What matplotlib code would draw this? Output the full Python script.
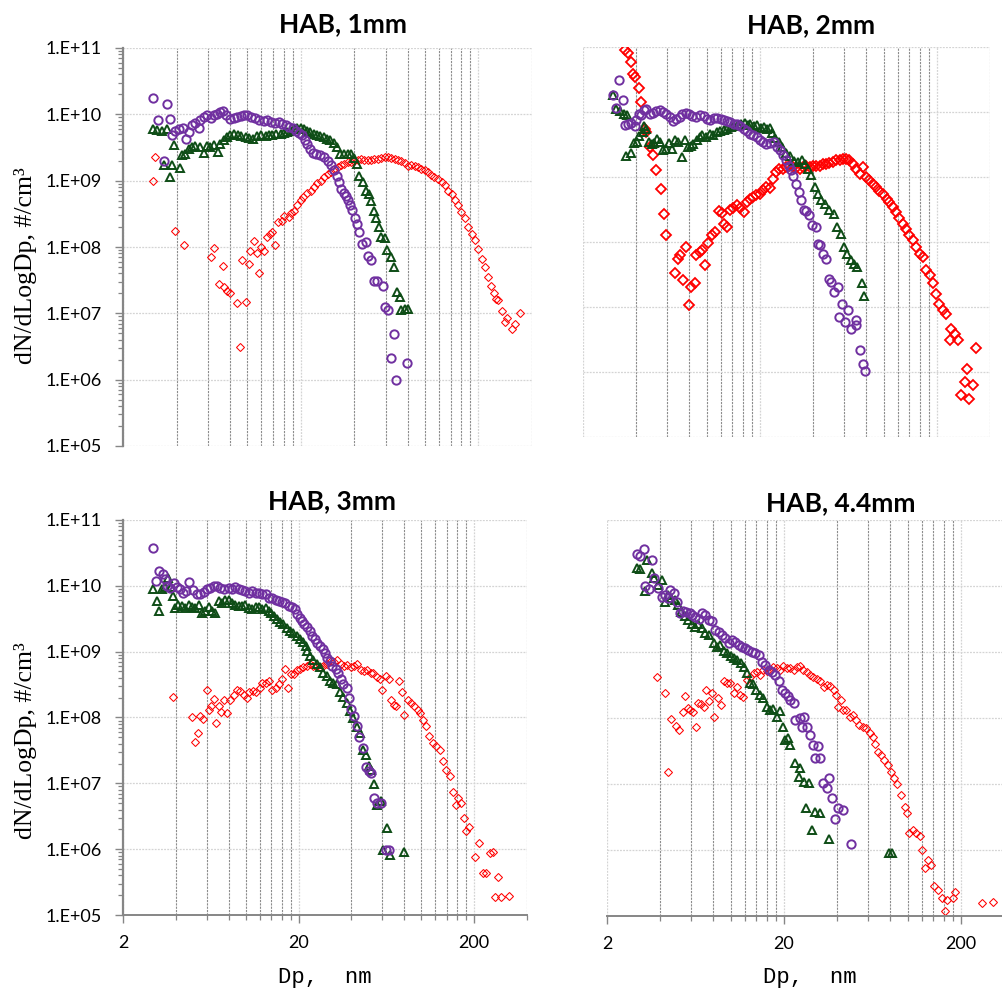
import matplotlib
matplotlib.use("Agg")
import matplotlib.pyplot as plt
from matplotlib.ticker import FixedLocator, FixedFormatter, LogLocator, NullFormatter

plt.rcParams["font.family"] = ["Lato", "DejaVu Sans"]

PURPLE = "#7030A0"
GREEN = "#0E4D16"
RED = "#FF0000"

# (Dp nm, dN/dLogDp) pairs

# HAB 1mm
tl_circles = [(2.94, 1.76e10), (3.16, 8.1e9), (3.38, 2.0e9), (3.53, 1.42e10), (3.66, 8.6e9), (3.77, 4.8e9),
              (3.93, 5.7e9), (4.11, 6.1e9), (4.35, 6.3e9), (4.52, 4.3e9), (4.70, 5.4e9), (4.88, 6.8e9),
              (5.05, 7.4e9), (5.33, 6.2e9), (5.45, 8.1e9), (5.69, 9.1e9), (5.94, 9.7e9), (6.25, 8.9e9),
              (6.48, 9.9e9), (6.77, 1.02e10), (7.07, 1.08e10), (7.32, 1.11e10), (7.64, 9.7e9), (7.98, 8.6e9),
              (8.41, 8.9e9), (8.78, 9.1e9), (9.17, 9.4e9), (9.57, 9.7e9), (10.0, 9.9e9), (10.5, 9.1e9),
              (11.1, 8.9e9), (11.7, 8.3e9), (12.4, 7.9e9), (13.0, 8.1e9), (13.6, 7.7e9), (14.4, 7.4e9),
              (15.0, 7.7e9), (15.7, 7.1e9), (16.5, 6.8e9), (17.2, 6.4e9), (18.0, 6.3e9), (18.7, 5.7e9),
              (19.6, 5.2e9), (20.4, 4.8e9), (21.1, 4.15e9), (21.8, 3.6e9), (22.6, 3.0e9), (23.3, 2.6e9),
              (24.3, 2.5e9), (25.7, 2.4e9), (27.1, 2.3e9), (28.3, 2.0e9), (29.5, 1.7e9), (30.8, 1.43e9),
              (31.9, 1.16e9), (32.9, 9.5e8), (33.9, 7.6e8), (34.8, 6.5e8), (35.8, 5.8e8), (36.8, 5.1e8),
              (37.8, 4.25e8), (38.9, 3.6e8), (40.2, 2.7e8), (41.4, 2.2e8), (42.7, 1.68e8), (44.3, 1.12e8),
              (46.4, 1.19e8), (47.6, 7.2e7), (49.7, 6.3e7), (51.4, 3.1e7), (53.7, 3.1e7), (57.9, 2.6e7),
              (59.2, 1.24e7), (61.8, 1.14e7), (66.8, 4.9e6), (64.0, 2.1e6), (68.9, 9.8e5), (79.5, 1.8e6)]
tl_triangles = [(2.94, 6.1e9), (3.10, 5.9e9), (3.31, 5.6e9), (3.53, 6.1e9), (3.38, 1.7e9), (3.66, 1.14e9),
                (3.77, 1.7e9), (3.88, 3.5e9), (4.20, 1.55e9), (4.29, 2.4e9), (4.48, 2.5e9), (4.68, 3.0e9),
                (4.88, 3.2e9), (5.10, 3.3e9), (5.40, 3.2e9), (5.69, 2.6e9), (5.94, 3.3e9), (6.20, 3.2e9),
                (6.48, 3.5e9), (6.86, 2.7e9), (7.07, 3.6e9), (7.38, 4.06e9), (7.71, 4.55e9), (8.05, 4.8e9),
                (8.41, 5.1e9), (8.86, 4.8e9), (9.25, 4.65e9), (9.79, 4.55e9), (10.2, 4.45e9), (10.8, 4.3e9),
                (11.4, 4.65e9), (12.0, 4.8e9), (12.7, 4.65e9), (13.2, 4.8e9), (13.8, 4.85e9), (14.6, 5.1e9),
                (15.4, 5.1e9), (16.1, 5.2e9), (16.8, 5.4e9), (17.6, 5.7e9), (18.3, 6.1e9), (19.1, 6.3e9),
                (20.0, 6.2e9), (20.9, 6.1e9), (21.6, 5.7e9), (22.6, 5.4e9), (23.7, 5.1e9), (24.7, 4.9e9),
                (25.8, 4.65e9), (26.9, 4.55e9), (28.1, 4.3e9), (29.3, 4.06e9), (30.6, 3.7e9), (31.9, 3.2e9),
                (33.2, 2.55e9), (35.1, 2.5e9), (36.7, 2.55e9), (38.3, 2.5e9), (40.0, 2.2e9), (41.4, 1.8e9),
                (42.7, 1.17e9), (44.6, 9.5e8), (46.6, 7.1e8), (48.2, 6.4e8), (49.7, 4.9e8), (51.4, 3.5e8),
                (53.0, 2.7e8), (54.8, 2.0e8), (56.6, 1.42e8), (59.2, 1.38e8), (61.3, 8.9e7), (64.0, 7.1e7),
                (66.8, 5.0e7), (69.8, 2.1e7), (71.9, 1.76e7), (73.5, 1.11e7), (76.8, 1.17e7), (80.1, 1.17e7)]
tl_diamonds = [(2.94, 1.0e9), (3.03, 2.3e9), (3.93, 1.74e8), (4.39, 1.08e8), (6.25, 7.1e7), (6.54, 9.8e7),
               (6.98, 2.8e7), (7.32, 5.1e7), (7.44, 2.5e7), (7.71, 2.2e7), (8.05, 2.0e7), (8.71, 1.43e7),
               (9.05, 3.1e6), (9.33, 6.3e7), (9.79, 1.48e7), (10.2, 5.5e7), (10.4, 8.7e7), (10.9, 1.23e8),
               (11.3, 8.2e7), (11.7, 4.06e7), (12.0, 1.0e8), (12.5, 8.7e7), (13.0, 1.42e8), (13.4, 1.59e8),
               (13.8, 1.68e8), (14.4, 1.08e8), (14.8, 2.4e8), (15.6, 2.5e8), (16.1, 2.9e8), (17.2, 2.8e8),
               (17.6, 3.2e8), (18.3, 3.5e8), (19.1, 4.25e8), (20.0, 5.1e8), (20.7, 5.7e8), (21.7, 6.5e8),
               (22.8, 7.1e8), (23.8, 8.0e8), (24.8, 9.2e8), (25.9, 1.0e9), (27.1, 1.14e9), (28.3, 1.28e9),
               (29.5, 1.35e9), (30.8, 1.52e9), (32.2, 1.61e9), (33.6, 1.7e9), (35.1, 1.8e9), (36.7, 1.9e9),
               (38.3, 1.9e9), (40.0, 2.0e9), (41.8, 2.06e9), (43.6, 2.15e9), (45.6, 2.06e9), (47.6, 2.06e9),
               (49.7, 2.06e9), (51.9, 2.15e9), (54.2, 2.15e9), (56.6, 2.2e9), (59.2, 2.27e9), (61.8, 2.27e9),
               (64.5, 2.2e9), (67.4, 2.15e9), (70.4, 2.06e9), (73.5, 1.98e9), (76.8, 1.85e9), (80.1, 1.64e9),
               (83.7, 1.7e9), (87.4, 1.64e9), (91.3, 1.61e9), (95.3, 1.52e9), (99.6, 1.43e9), (104, 1.35e9),
               (108, 1.2e9), (113, 1.14e9), (118, 1.07e9), (124, 9.5e8), (129, 8.5e8), (135, 7.1e8),
               (141, 6.2e8), (147, 5.2e8), (154, 4.25e8), (160, 3.4e8), (167, 2.7e8), (175, 2.0e8),
               (183, 1.59e8), (191, 1.29e8), (199, 9.4e7), (208, 6.7e7), (217, 5.0e7), (225, 3.5e7),
               (235, 2.6e7), (245, 2.0e7), (252, 1.63e7), (258, 1.57e7), (270, 1.08e7), (282, 7.4e6),
               (290, 8.6e6), (307, 5.9e6), (320, 7.0e6), (341, 1.01e7)]

# HAB 2mm
tr_circles = [(2.96, 1.8e10), (3.21, 3.1e10), (3.37, 1.55e10), (3.09, 1.17e10), (3.44, 6.2e9), (3.60, 6.6e9),
              (3.76, 6.8e9), (3.92, 6.0e9), (4.01, 7.4e9), (4.15, 9.4e9), (4.27, 8.9e9), (4.40, 1.06e10),
              (4.56, 1.12e10), (4.76, 9.2e9), (4.97, 9.7e9), (5.19, 1.04e10), (5.42, 1.06e10), (5.67, 1.0e10),
              (5.91, 9.4e9), (6.17, 8.4e9), (6.45, 7.3e9), (6.74, 7.9e9), (7.04, 8.4e9), (7.29, 9.4e9),
              (7.61, 9.7e9), (7.95, 9.2e9), (8.30, 8.6e9), (8.74, 8.4e9), (9.13, 8.9e9), (9.61, 8.6e9),
              (10.0, 7.9e9), (10.5, 7.4e9), (11.0, 8.1e9), (11.4, 8.1e9), (12.0, 7.9e9), (12.5, 7.6e9),
              (13.0, 7.3e9), (13.6, 7.0e9), (14.2, 6.6e9), (14.8, 6.5e9), (15.5, 6.0e9), (16.2, 5.5e9),
              (16.9, 5.1e9), (17.6, 4.6e9), (18.4, 4.4e9), (19.2, 4.1e9), (20.1, 3.75e9), (20.8, 3.45e9),
              (21.7, 3.2e9), (22.9, 3.3e9), (23.9, 3.4e9), (25.0, 2.9e9), (26.1, 2.6e9), (27.2, 2.2e9),
              (28.2, 1.85e9), (29.2, 1.5e9), (30.1, 1.27e9), (30.7, 1.02e9), (32.1, 7.9e8), (33.3, 5.9e8),
              (34.3, 4.4e8), (35.3, 3.1e8), (36.5, 3.05e8), (37.9, 2.6e8), (39.5, 1.8e8), (41.3, 1.7e8),
              (42.5, 9.4e7), (43.8, 8.9e7), (45.4, 6.6e7), (47.4, 5.5e7), (49.1, 2.7e7), (50.6, 2.4e7),
              (52.8, 1.7e7), (55.1, 2.0e7), (58.5, 1.12e7), (62.9, 8.9e6), (56.1, 7.0e6), (60.3, 5.9e6),
              (65.7, 4.6e6), (69.7, 5.2e6), (70.2, 6.4e6), (73.2, 2.2e6), (76.4, 1.31e6), (78.8, 1.04e6)]
tr_triangles = [(2.96, 1.8e10), (3.09, 1.12e10), (3.25, 1.04e10), (3.40, 9.4e9), (3.55, 8.9e9), (3.49, 2.1e9),
                (3.72, 2.3e9), (3.88, 3.3e9), (4.03, 3.45e9), (4.17, 4.2e9), (4.35, 4.9e9), (4.44, 6.0e9),
                (4.57, 5.5e9), (4.72, 3.45e9), (4.88, 3.2e9), (5.01, 3.3e9), (5.23, 3.9e9), (5.46, 3.45e9),
                (5.66, 2.6e9), (5.88, 2.7e9), (6.14, 3.3e9), (6.40, 2.7e9), (6.63, 3.7e9), (6.93, 3.45e9),
                (7.22, 2.0e9), (7.54, 3.7e9), (7.88, 2.9e9), (8.15, 3.0e9), (8.40, 3.2e9), (8.78, 3.7e9),
                (9.17, 4.1e9), (9.45, 4.4e9), (9.91, 4.1e9), (10.4, 4.6e9), (10.9, 4.5e9), (11.4, 4.9e9),
                (11.9, 5.1e9), (12.5, 5.35e9), (13.1, 5.55e9), (13.7, 5.9e9), (14.3, 6.0e9), (15.0, 6.2e9),
                (15.7, 6.5e9), (16.4, 6.8e9), (17.2, 6.2e9), (17.7, 6.5e9), (18.5, 6.0e9), (19.3, 6.2e9),
                (20.2, 5.7e9), (21.1, 5.9e9), (22.0, 5.5e9), (22.7, 5.7e9), (23.4, 4.75e9), (24.5, 4.0e9),
                (25.6, 3.45e9), (26.8, 2.9e9), (28.1, 2.34e9), (29.6, 2.1e9), (31.0, 1.76e9), (33.0, 1.7e9),
                (34.4, 1.85e9), (35.9, 1.57e9), (37.4, 1.34e9), (39.1, 1.06e9), (40.9, 7.0e8), (42.7, 5.5e8),
                (44.6, 4.5e8), (46.5, 3.8e8), (49.4, 3.1e8), (52.6, 2.7e8), (54.9, 1.7e8), (57.4, 1.34e8),
                (59.9, 8.4e7), (62.5, 6.5e7), (65.3, 5.35e7), (68.2, 4.6e7), (71.2, 4.1e7), (75.5, 2.3e7),
                (77.9, 1.46e7)]
tr_diamonds = [(3.44, 8.9e10), (3.60, 8.1e10), (3.73, 5.9e10), (3.84, 3.8e10), (3.92, 3.45e10), (4.15, 2.34e10),
               (4.27, 1.43e10), (4.50, 5.5e9), (4.56, 4.9e9), (4.76, 2.9e9), (4.97, 2.15e9), (5.19, 1.3e9),
               (5.55, 6.6e8), (5.72, 2.7e8), (5.91, 1.27e8), (6.59, 3.3e7), (6.89, 5.5e7), (7.04, 6.2e7),
               (7.35, 2.6e7), (7.67, 8.4e7), (7.95, 1.06e7), (8.19, 2.0e7), (8.56, 2.3e7), (8.74, 6.2e7),
               (9.13, 7.0e7), (9.45, 7.4e7), (9.83, 4.5e7), (10.2, 9.7e7), (10.7, 1.27e8), (11.1, 1.43e8),
               (11.7, 3.0e8), (12.2, 2.8e8), (12.5, 1.9e8), (13.0, 1.7e8), (13.5, 3.1e8), (14.1, 3.3e8),
               (14.8, 3.7e8), (15.5, 3.3e8), (16.2, 2.9e8), (16.9, 4.1e8), (17.5, 4.6e8), (18.3, 4.9e8),
               (19.1, 5.2e8), (20.0, 5.5e8), (20.8, 6.4e8), (21.7, 7.0e8), (22.7, 6.8e8), (23.7, 9.4e8),
               (24.6, 1.2e9), (25.7, 1.34e9), (27.0, 1.34e9), (28.2, 1.43e9), (29.4, 1.46e9), (30.7, 1.43e9),
               (32.1, 1.4e9), (33.5, 1.34e9), (35.0, 1.43e9), (36.5, 1.5e9), (38.2, 1.43e9), (39.9, 1.46e9),
               (41.6, 1.5e9), (43.5, 1.5e9), (45.4, 1.57e9), (47.4, 1.6e9), (49.5, 1.64e9), (51.7, 1.7e9),
               (54.0, 1.8e9), (56.4, 1.85e9), (58.9, 1.9e9), (61.5, 1.9e9), (64.2, 1.8e9), (67.1, 1.6e9),
               (70.1, 1.34e9), (73.2, 1.12e9), (76.4, 1.43e9), (79.8, 1.0e9), (83.3, 8.9e8), (87.0, 7.9e8),
               (90.9, 7.0e8), (94.9, 6.1e8), (99.2, 5.5e8), (104, 4.6e8), (108, 4.1e8), (113, 3.4e8),
               (118, 2.9e8), (123, 2.3e8), (129, 1.9e8), (134, 1.6e8), (140, 1.27e8), (147, 1.06e8),
               (153, 8.4e7), (160, 6.5e7), (167, 5.9e7), (174, 3.75e7), (182, 3.1e7), (190, 2.3e7),
               (198, 1.6e7), (207, 1.1e7), (216, 8.9e6), (226, 7.9e6), (242, 4.6e6), (252, 3.9e6),
               (239, 3.1e6), (264, 3.1e6), (297, 1.12e6), (334, 2.3e6), (288, 7.0e5), (320, 6.2e5),
               (276, 4.4e5), (305, 3.9e5)]

# HAB 3mm
bl_circles = [(2.98, 3.8e10), (3.08, 1.18e10), (3.22, 1.68e10), (3.37, 1.49e10), (3.47, 1.25e10), (3.56, 9.9e9),
              (3.71, 9.4e9), (3.88, 1.09e10), (4.05, 9.7e9), (4.23, 8.8e9), (4.42, 7.9e9), (4.58, 8.3e9),
              (4.78, 1.14e10), (5.00, 8.6e9), (5.27, 7.4e9), (5.50, 7.4e9), (5.76, 8.0e9), (6.01, 8.8e9),
              (6.28, 9.4e9), (6.56, 1.01e10), (6.85, 9.9e9), (7.17, 9.4e9), (7.56, 8.8e9), (8.0, 9.4e9),
              (8.4, 8.8e9), (8.74, 9.7e9), (9.13, 8.8e9), (9.54, 8.6e9), (9.96, 8.3e9), (10.4, 7.9e9),
              (10.9, 8.3e9), (11.4, 7.7e9), (11.9, 7.7e9), (12.4, 7.4e9), (13.0, 7.4e9), (13.6, 6.6e9),
              (14.1, 6.6e9), (14.8, 6.2e9), (15.4, 5.9e9), (16.1, 5.7e9), (16.8, 5.4e9), (17.6, 5.0e9),
              (18.4, 4.8e9), (19.0, 4.4e9), (19.7, 3.7e9), (20.3, 3.3e9), (21.0, 2.9e9), (21.6, 2.6e9),
              (22.4, 2.4e9), (23.2, 2.05e9), (23.9, 1.76e9), (24.7, 1.57e9), (25.6, 1.36e9), (26.5, 1.21e9),
              (27.4, 1.08e9), (28.3, 9.6e8), (29.2, 8.1e8), (30.3, 7.2e8), (31.2, 6.0e8), (32.6, 5.5e8),
              (33.7, 4.75e8), (34.8, 3.8e8), (36.0, 3.2e8), (37.6, 2.8e8), (38.8, 2.0e8), (40.0, 1.35e8),
              (41.4, 1.04e8), (42.9, 7.5e7), (44.2, 5.1e7), (46.3, 3.4e7), (48.5, 1.77e7), (50.2, 1.52e7),
              (52.0, 1.45e7), (53.8, 6.0e6), (56.2, 5.1e6), (58.9, 5.1e6), (62.9, 9.8e5), (65.6, 9.8e5)]
bl_triangles = [(2.98, 8.8e9), (3.12, 5.9e9), (3.22, 4.1e9), (3.33, 8.8e9), (3.47, 9.7e9), (3.63, 1.33e10),
                (3.75, 9.7e9), (3.85, 7.1e9), (3.96, 4.6e9), (4.14, 5.2e9), (4.33, 5.0e9), (4.52, 4.6e9),
                (4.73, 5.2e9), (4.93, 4.8e9), (5.16, 4.6e9), (5.39, 5.2e9), (5.63, 3.9e9), (5.88, 4.1e9),
                (6.15, 4.8e9), (6.42, 4.1e9), (6.71, 3.9e9), (7.01, 5.9e9), (7.33, 5.4e9), (7.65, 6.2e9),
                (8.0, 6.2e9), (8.35, 5.5e9), (8.73, 5.2e9), (9.12, 5.0e9), (9.52, 4.9e9), (9.95, 5.2e9),
                (10.4, 4.6e9), (10.9, 4.5e9), (11.4, 4.8e9), (11.9, 4.8e9), (12.4, 4.5e9), (13.0, 4.6e9),
                (13.6, 4.1e9), (14.0, 3.8e9), (14.5, 3.5e9), (15.0, 3.1e9), (15.7, 2.8e9), (16.4, 2.6e9),
                (17.1, 2.3e9), (17.9, 2.05e9), (18.7, 1.89e9), (19.6, 1.72e9), (20.4, 1.57e9), (21.3, 1.39e9),
                (22.0, 1.21e9), (22.4, 1.02e9), (23.3, 8.5e8), (24.3, 7.6e8), (25.4, 6.6e8), (26.5, 5.9e8),
                (27.7, 4.75e8), (29.0, 4.2e8), (30.3, 3.6e8), (31.6, 3.35e8), (33.0, 3.2e8), (34.5, 2.4e8),
                (36.0, 2.05e8), (37.6, 1.66e8), (39.3, 1.24e8), (41.1, 9.8e7), (42.9, 7.2e7), (44.8, 5.8e7),
                (46.8, 3.2e7), (48.5, 2.7e7), (50.2, 1.81e7), (52.0, 1.61e7), (53.8, 9.9e6), (56.2, 4.7e6),
                (58.9, 5.3e6), (60.8, 9.8e5), (63.7, 2.1e6), (66.6, 8.2e5), (79.7, 8.9e5)]
bl_diamonds = [(3.85, 2.05e8), (4.93, 1.02e8), (5.16, 4.3e7), (5.32, 5.8e7), (5.50, 1.07e8), (5.70, 9.5e7),
               (5.98, 2.6e8), (6.15, 1.32e8), (6.34, 1.48e8), (6.62, 1.91e8), (6.80, 8.3e7), (7.01, 1.51e8),
               (7.23, 1.2e8), (7.49, 1.83e8), (7.82, 1.17e8), (8.18, 1.83e8), (8.54, 2.2e8), (8.92, 2.65e8),
               (9.33, 2.5e8), (9.75, 2.2e8), (10.2, 2.0e8), (10.5, 2.4e8), (11.0, 2.5e8), (11.5, 2.4e8),
               (12.0, 2.8e8), (12.4, 3.35e8), (13.0, 3.3e8), (13.6, 3.6e8), (14.1, 2.6e8), (14.8, 2.8e8),
               (15.4, 3.2e8), (16.1, 3.85e8), (16.8, 5.5e8), (17.5, 2.8e8), (18.1, 4.6e8), (18.8, 4.5e8),
               (19.5, 5.3e8), (20.3, 5.5e8), (21.3, 5.9e8), (22.2, 6.0e8), (23.2, 6.4e8), (24.2, 6.0e8),
               (25.3, 6.0e8), (26.4, 5.9e8), (27.6, 6.0e8), (28.9, 6.4e8), (30.6, 7.2e8), (31.8, 6.9e8),
               (33.3, 7.6e8), (34.8, 6.4e8), (36.3, 6.0e8), (37.9, 6.2e8), (39.6, 5.9e8), (41.4, 6.0e8),
               (43.3, 6.4e8), (45.2, 5.3e8), (47.3, 5.0e8), (49.3, 5.2e8), (51.5, 4.75e8), (53.3, 4.8e8),
               (55.8, 4.1e8), (58.3, 3.8e8), (60.0, 2.65e8), (62.9, 4.2e8), (65.6, 3.8e8), (67.1, 1.87e8),
               (69.5, 1.57e8), (71.8, 1.48e8), (75.0, 3.6e8), (77.3, 2.4e8), (80.0, 1.1e8), (83.6, 1.87e8),
               (87.3, 1.66e8), (91.2, 1.48e8), (95.3, 1.32e8), (98.8, 1.17e8), (102, 9.3e7), (106, 7.3e7),
               (111, 5.2e7), (116, 4.1e7), (121, 3.65e7), (127, 3.2e7), (133, 2.15e7), (139, 1.61e7),
               (145, 1.28e7), (151, 7.5e6), (158, 4.7e6), (162, 6.0e6), (169, 5.0e6), (176, 3.0e6),
               (180, 1.86e6), (188, 2.2e6), (201, 7.7e5), (214, 1.23e6), (224, 4.3e5), (234, 4.3e5),
               (245, 8.7e5), (256, 9.2e5), (274, 3.8e5), (262, 1.9e5), (285, 1.9e5), (314, 1.95e5)]

# HAB 4.4mm
br_circles = [(2.96, 3.05e10), (3.09, 2.8e10), (3.23, 3.6e10), (3.60, 2.5e10), (3.30, 1.0e10), (3.44, 8.9e9),
              (3.71, 1.31e10), (3.87, 9.2e9), (4.10, 6.9e9), (4.27, 7.3e9), (4.40, 6.5e9), (4.56, 8.7e9),
              (4.76, 7.7e9), (4.97, 5.8e9), (5.19, 3.85e9), (5.38, 4.2e9), (5.62, 4.1e9), (5.86, 3.9e9),
              (6.04, 3.6e9), (6.31, 3.4e9), (6.59, 3.2e9), (6.89, 3.85e9), (7.20, 3.6e9), (7.51, 3.1e9),
              (7.84, 2.9e9), (8.19, 2.15e9), (8.56, 2.0e9), (8.94, 1.8e9), (9.33, 1.61e9), (9.75, 1.35e9),
              (10.2, 1.52e9), (10.6, 1.44e9), (11.1, 1.28e9), (11.6, 1.2e9), (12.1, 1.14e9), (12.6, 1.07e9),
              (13.2, 1.01e9), (13.8, 9.5e8), (14.4, 9.0e8), (15.0, 7.1e8), (15.7, 6.4e8), (16.4, 5.3e8),
              (17.1, 4.9e8), (17.9, 4.5e8), (18.7, 3.6e8), (19.5, 2.65e8), (20.3, 2.4e8), (21.0, 2.15e8),
              (21.7, 1.87e8), (22.7, 1.67e8), (23.2, 9.3e7), (24.7, 9.9e7), (26.0, 1.02e8), (25.2, 7.4e7),
              (27.2, 7.4e7), (28.2, 5.5e7), (29.2, 3.9e7), (31.2, 3.7e7), (30.1, 2.5e7), (32.0, 2.5e7),
              (33.3, 1.05e7), (36.2, 1.22e7), (34.9, 8.6e6), (37.3, 6.1e6), (39.1, 2.9e6), (40.2, 4.3e6),
              (43.1, 4.0e6), (47.8, 1.22e6)]
br_triangles = [(2.96, 1.85e10), (3.09, 1.79e10), (3.26, 8.5e9), (3.37, 2.5e10), (3.60, 1.56e10), (3.71, 1.31e10),
                (3.87, 1.03e10), (4.10, 1.23e10), (4.27, 5.8e9), (4.43, 7.3e9), (4.62, 6.5e9), (4.82, 6.1e9),
                (5.03, 5.2e9), (5.26, 4.1e9), (5.51, 3.5e9), (5.76, 3.05e9), (6.02, 2.65e9), (6.29, 2.4e9),
                (6.57, 2.7e9), (6.87, 2.3e9), (7.18, 1.92e9), (7.51, 1.81e9), (8.02, 1.35e9), (8.38, 1.2e9),
                (8.76, 1.27e9), (9.15, 1.05e9), (9.56, 9.5e8), (9.99, 8.7e8), (10.4, 8.0e8), (10.9, 7.6e8),
                (11.4, 6.7e8), (11.9, 6.0e8), (12.4, 4.75e8), (12.8, 3.4e8), (13.4, 3.3e8), (14.0, 2.65e8),
                (14.6, 2.2e8), (15.3, 2.0e8), (16.0, 1.49e8), (16.7, 1.32e8), (17.4, 1.35e8), (18.2, 1.05e8),
                (19.0, 1.29e8), (19.7, 7.4e7), (20.3, 4.6e7), (21.2, 4.9e7), (21.8, 3.9e7), (23.1, 2.1e7),
                (24.7, 1.73e7), (24.2, 1.29e7), (25.9, 1.08e7), (27.8, 1.05e7), (26.8, 4.3e6), (29.9, 3.8e6),
                (32.1, 3.6e6), (28.9, 2.0e6), (36.2, 1.45e6), (79.0, 9.1e5), (81.9, 8.9e5)]
br_diamonds = [(3.83, 4.2e8), (4.27, 2.4e8), (4.43, 1.54e7), (4.58, 9.5e7), (4.91, 7.6e7), (5.12, 6.6e7),
               (5.35, 1.25e8), (5.51, 2.15e8), (5.76, 1.4e8), (5.93, 1.32e8), (6.10, 1.25e8), (6.33, 7.2e7),
               (6.57, 1.71e8), (6.83, 1.63e8), (7.04, 1.49e8), (7.25, 2.65e8), (7.51, 1.83e8), (7.84, 2.4e8),
               (8.09, 1.02e8), (8.46, 2.0e8), (8.85, 1.57e8), (9.13, 3.6e8), (9.54, 3.35e8), (9.96, 3.45e8),
               (10.4, 2.4e8), (10.8, 3.0e8), (11.3, 2.2e8), (11.8, 2.1e8), (12.4, 3.8e8), (12.9, 4.2e8),
               (13.5, 4.75e8), (14.1, 5.0e8), (14.7, 4.5e8), (15.3, 5.3e8), (16.0, 5.2e8), (16.7, 5.4e8),
               (17.4, 5.9e8), (18.2, 5.7e8), (19.0, 5.4e8), (19.9, 6.1e8), (20.8, 5.7e8), (21.7, 5.7e8),
               (22.7, 5.4e8), (23.7, 5.9e8), (24.6, 6.1e8), (25.7, 5.4e8), (26.9, 4.9e8), (28.1, 4.5e8),
               (29.3, 4.2e8), (30.7, 3.85e8), (32.0, 3.6e8), (33.5, 3.0e8), (35.0, 3.15e8), (36.5, 3.05e8),
               (38.2, 2.65e8), (39.4, 2.2e8), (40.6, 1.49e8), (42.1, 1.87e8), (43.1, 1.32e8), (45.0, 1.32e8),
               (47.0, 1.05e8), (49.1, 1.1e8), (51.2, 9.3e7), (53.5, 7.8e7), (55.9, 7.4e7), (58.4, 7.0e7),
               (61.0, 5.9e7), (63.7, 5.2e7), (65.6, 4.1e7), (67.9, 3.1e7), (70.9, 2.75e7), (74.0, 2.3e7),
               (77.3, 1.94e7), (80.8, 1.54e7), (83.7, 1.22e7), (87.4, 1.0e7), (92.2, 6.8e6), (96.3, 4.5e6),
               (99.6, 3.6e6), (102, 1.79e6), (107, 2.0e6), (112, 1.79e6), (117, 1.63e6), (120, 1.0e6),
               (125, 5.3e5), (131, 7.1e5), (135, 5.9e5), (141, 2.8e5), (149, 2.5e5), (157, 1.85e5),
               (162, 1.2e5), (167, 1.75e5), (180, 1.85e5), (186, 2.35e5), (264, 1.6e5), (303, 1.65e5)]

TITLES = ["HAB, 1mm", "HAB, 2mm", "HAB, 3mm", "HAB, 4.4mm"]
X_MAJOR = [2, 20, 200]
X_MINOR = [4, 6, 8, 10, 12, 14, 16, 18, 40, 60, 80, 100, 120, 140, 160, 180, 400]
Y_TICKS = [1e5, 1e6, 1e7, 1e8, 1e9, 1e10, 1e11]
Y_LABELS = ["1.E+05", "1.E+06", "1.E+07", "1.E+08", "1.E+09", "1.E+10", "1.E+11"]

W, H = 1003, 991
fig = plt.figure(figsize=(W / 100, H / 100), dpi=100)


def box(left, right, top, bottom):
    return [left / W, 1 - bottom / H, (right - left) / W, (bottom - top) / H]


def style(ax, show_y, show_x):
    ax.set_xscale("log")
    ax.set_yscale("log")
    ax.set_xlim(2, 400)
    ax.set_ylim(1e5, 1e11)
    ax.xaxis.set_major_locator(FixedLocator(X_MAJOR))
    ax.xaxis.set_minor_locator(FixedLocator(X_MINOR))
    ax.xaxis.set_major_formatter(FixedFormatter([str(v) for v in X_MAJOR]))
    ax.xaxis.set_minor_formatter(NullFormatter())
    ax.yaxis.set_major_locator(FixedLocator(Y_TICKS))
    ax.yaxis.set_major_formatter(FixedFormatter(Y_LABELS))
    ax.yaxis.set_minor_locator(LogLocator(base=10, subs=range(2, 10), numticks=30))
    ax.yaxis.set_minor_formatter(NullFormatter())
    ax.set_axisbelow(True)
    ax.grid(which="major", color="#d4d4d4", ls=(0, (1.5, 1)), lw=0.9)
    ax.grid(which="minor", axis="x", color="#8c8c8c", ls=(0, (2, 1)), lw=0.8)
    for s in ax.spines.values():
        s.set_visible(False)
    ax.tick_params(which="both", top=False, right=False, colors="#868686", labelcolor="black")
    ax.tick_params(which="major", length=5.5, width=1.0, labelsize=13)
    ax.tick_params(which="minor", length=3.5, width=0.9)
    ax.tick_params(axis="y", pad=10)
    ax.tick_params(axis="x", pad=9)
    if show_y:
        ax.spines["left"].set_visible(True)
        ax.spines["left"].set_color("#868686")
        ax.spines["left"].set_linewidth(1.6)
    else:
        ax.tick_params(axis="y", which="both", left=False, labelleft=False)
    if show_x:
        ax.spines["bottom"].set_visible(True)
        ax.spines["bottom"].set_color("#868686")
        ax.spines["bottom"].set_linewidth(1.4)
    else:
        ax.tick_params(axis="x", which="both", bottom=False, labelbottom=False)


def draw(ax, circles, triangles, diamonds, big_diamonds=False):
    dms, dmew = (4.6, 1.3) if big_diamonds else (3.6, 0.75)
    ax.plot([p[0] for p in diamonds], [p[1] for p in diamonds], ls="none", marker="D",
            mfc="none", mec=RED, ms=dms, mew=dmew)
    ax.plot([p[0] for p in triangles], [p[1] for p in triangles], ls="none", marker="^",
            mfc="none", mec=GREEN, ms=6, mew=1.4)
    ax.plot([p[0] for p in circles], [p[1] for p in circles], ls="none", marker="o",
            mfc="none", mec=PURPLE, ms=6, mew=1.4)


panels = [
    (box(123, 532, 48, 446), tl_circles, tl_triangles, tl_diamonds, False, True, False, (343, 24)),
    (box(583, 990, 47, 437), tr_circles, tr_triangles, tr_diamonds, True, False, False, (811, 25)),
    (box(123, 527, 520, 915), bl_circles, bl_triangles, bl_diamonds, False, True, True, (332, 501)),
    (box(607, 1014, 520, 916), br_circles, br_triangles, br_diamonds, False, False, True, (841, 503)),
]

for title, (rect, c, t, d, big, sy, sx, tpos) in zip(TITLES, panels):
    ax = fig.add_axes(rect)
    style(ax, sy, sx)
    draw(ax, c, t, d, big)
    fig.text(tpos[0] / W, 1 - tpos[1] / H, title, ha="center", va="center",
             fontsize=19, fontweight="bold")

for yc in (266, 741):
    fig.text(26 / W, 1 - yc / H, "dN/dLogDp, #/cm³", rotation=90, ha="center", va="center",
             fontsize=18.5, family=["Liberation Serif", "DejaVu Serif"])

for xc in (325, 810):
    fig.text(xc / W, 1 - 977 / H, "Dp,  nm", ha="center", va="center",
             fontsize=16, family=["Liberation Mono", "DejaVu Sans Mono"])

fig.savefig("out.png", dpi=100)
